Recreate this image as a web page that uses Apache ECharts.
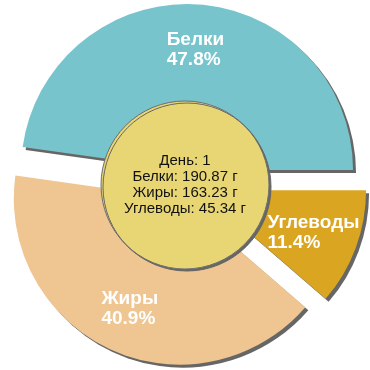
<!DOCTYPE html>
<html><head><meta charset="utf-8">
<script src="https://cdn.jsdelivr.net/npm/echarts@6/dist/echarts.min.js"></script>
<style>html,body{margin:0;padding:0;background:#fff}#c{width:370px;height:370px}</style>
</head><body><div id="c"></div>
<script>
const categories = ['Белки', 'Жиры', 'Углеводы'];
const grams = [190.87, 163.23, 45.34];
const colors = ['#78c4cc', '#efc592', '#daa520'];
const dayLabel = 'День: 1';
const unit = 'г';

const FONT = '"Liberation Sans", Arial, sans-serif';
const total = grams.reduce((a, b) => a + b, 0);
const slices = categories.map((n, i) => ({ name: n, value: grams[i], selected: true, itemStyle: { color: colors[i] } }));
const labelSlices = categories.map((n, i) => ({ name: n, value: grams[i], selected: true }));
const centerText = [dayLabel].concat(categories.map((n, i) => n + ': ' + grams[i].toFixed(2) + ' ' + unit)).join('\n');

const chart = echarts.init(document.getElementById('c'), null, { renderer: 'canvas' });
const common = {
  type: 'pie', center: [186, 185], startAngle: 0, clockwise: false,
  selectedMode: 'multiple', selectedOffset: 15, silent: true, animation: false,
  emphasis: { disabled: true }, labelLine: { show: false }
};
chart.setOption({
  backgroundColor: '#ffffff',
  series: [
    Object.assign({}, common, {
      radius: [0, 166],
      label: { show: false },
      itemStyle: { shadowColor: '#666666', shadowBlur: 0, shadowOffsetX: 3, shadowOffsetY: 3, borderWidth: 0 },
      data: slices
    }),
    Object.assign({}, common, {
      radius: [70, 166],
      itemStyle: { color: 'rgba(0,0,0,0)', borderWidth: 0 },
      label: {
        show: true, position: 'inside', color: '#fff',
        formatter: p => '{t|' + p.name + '}\n{t|' + (p.value / total * 100).toFixed(1) + '%}',
        rich: { t: { align: 'left', color: '#fff', fontFamily: FONT, fontWeight: 'bold', fontSize: 19, lineHeight: 20 } }
      },
      data: labelSlices
    }),
    {
      type: 'pie', center: [185, 185], radius: [0, 84], silent: true, animation: false,
      emphasis: { disabled: true }, labelLine: { show: false },
      itemStyle: { color: '#e8d675', borderColor: '#6e6e6e', borderWidth: 1, shadowColor: '#666666', shadowBlur: 0, shadowOffsetX: 2, shadowOffsetY: 2 },
      label: { show: true, position: 'center', color: '#111', fontFamily: FONT, fontSize: 15, lineHeight: 16, formatter: centerText },
      data: [{ name: 'center', value: 1 }]
    }
  ]
});
</script></body></html>
